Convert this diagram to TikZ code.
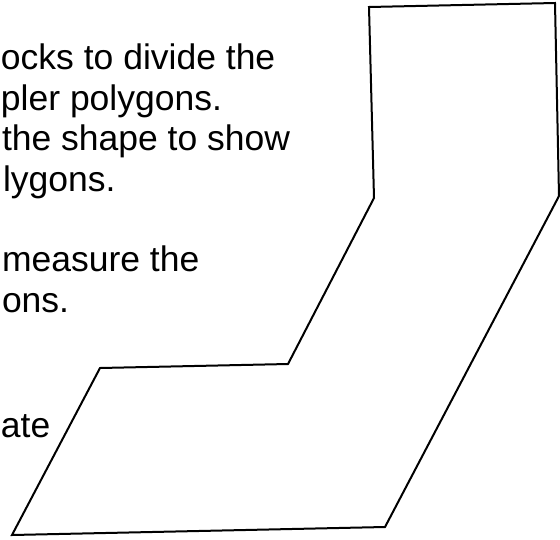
\documentclass[tikz,border=0pt]{standalone}
\usepackage{fontspec}
\setmainfont{Liberation Sans}

\begin{document}
\begin{tikzpicture}[
	line width=2pt,
	x=1pt,y=-1pt,
	font=\fontsize{35.5}{35.5}\selectfont,
	txt/.style={anchor=base west, inner sep=0pt}
	]
	% page
\clip (0,0) rectangle (560,539);

% text, cut at the left
\node[txt] (line_1)   at (0, 69) {ocks to divide the};
\node[txt] (line_2)   at (0, 110) {pler polygons.};
\node[txt] (line_3)   at (1, 150) {the shape to show};
\node[txt] (line_4)   at (2, 191) {lygons.};
\node[txt] (line_5)   at (1, 271) {measure the};
\node[txt] (line_6)   at (1, 312) {ons.};
\node[txt] (line_7)   at (0, 437) {ate};

% corners of the shape
			\coordinate (a_369_7)   at (369, 7);
			\coordinate (b_555_3)   at (555, 3);
			\coordinate (c_559_196)   at (559, 196);
			\coordinate (d_385_527)   at (385, 527);
			\coordinate (e_12_535)   at (12, 535);
			\coordinate (f_100_368)   at (100, 368);
			\coordinate (g_288_364)   at (288, 364);
			\coordinate (h_374_198)   at (374, 198);

			\draw[line join=miter] (a_369_7) -- (b_555_3) -- (c_559_196) -- (d_385_527)
				-- (e_12_535) -- (f_100_368) -- (g_288_364) -- (h_374_198) -- cycle;

\end{tikzpicture}
\end{document}
